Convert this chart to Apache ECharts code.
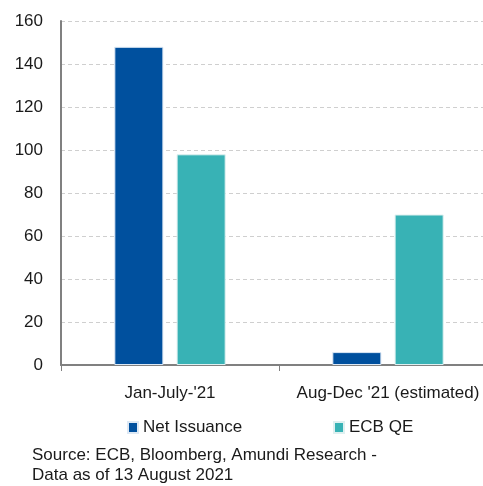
<!DOCTYPE html>
<html>
<head>
<meta charset="utf-8">
<script src="https://cdn.jsdelivr.net/npm/echarts@6/dist/echarts.min.js"></script>
<style>
  html, body { margin: 0; padding: 0; background: #fff; overflow: hidden; }
  /* the plot runs a little past the right edge of the window */
  #chart { width: 497px; height: 486px; }
</style>
</head>
<body>
<div id="chart"></div>
<script>
// Euro area issuance vs ECB purchases (EUR bn)
const categories = ["Jan-July-'21", "Aug-Dec '21 (estimated)"];
const netIssuance = [148, 6];
const ecbQE = [98, 70];
const yTicks = { min: 0, max: 160, step: 20 };

const FONT = '"Liberation Sans", Arial, sans-serif';
const TEXT = '#1a1a1a';

const chart = echarts.init(document.getElementById('chart'), null, { renderer: 'canvas' });

chart.setOption({
  animation: false,
  backgroundColor: '#ffffff',
  grid: { left: 61, right: 0, top: 21, bottom: 121, containLabel: false },
  xAxis: {
    type: 'category',
    data: categories,
    axisLine: { show: true, lineStyle: { color: '#808080', width: 2 } },
    axisTick: { show: true, length: 6, lineStyle: { color: '#808080', width: 1 } },
    axisLabel: { color: TEXT, fontFamily: FONT, fontSize: 17, margin: 20, interval: 0 },
    splitLine: { show: false }
  },
  yAxis: {
    type: 'value',
    min: yTicks.min,
    max: yTicks.max,
    interval: yTicks.step,
    axisLine: { show: true, lineStyle: { color: '#808080', width: 2 } },
    axisTick: { show: false },
    axisLabel: { color: TEXT, fontFamily: FONT, fontSize: 17, margin: 18 },
    splitLine: { show: true, lineStyle: { color: '#cfcfcf', type: [4, 3], width: 1 } }
  },
  legend: [
    {
      data: ['Net Issuance'],
      left: 127, top: 419,
      itemWidth: 10, itemHeight: 11, itemGap: 0,
      icon: 'rect',
      textStyle: { color: TEXT, fontFamily: FONT, fontSize: 17 },
      padding: 0
    },
    {
      data: ['ECB QE'],
      left: 333, top: 419,
      itemWidth: 10, itemHeight: 11, itemGap: 0,
      icon: 'rect',
      textStyle: { color: TEXT, fontFamily: FONT, fontSize: 17 },
      padding: 0
    }
  ],
  graphic: [
    {
      type: 'text',
      left: 32, top: 445,
      style: {
        text: 'Source: ECB, Bloomberg, Amundi Research -\nData as of 13 August 2021',
        fill: TEXT,
        font: '17px ' + FONT,
        lineHeight: 20
      }
    }
  ],
  series: [
    {
      name: 'Net Issuance',
      type: 'bar',
      data: netIssuance,
      barWidth: '22.5%',
      barGap: '27%',
      itemStyle: { color: '#00509e', borderColor: '#dde8f4', borderWidth: 1 }
    },
    {
      name: 'ECB QE',
      type: 'bar',
      data: ecbQE,
      barWidth: '22.5%',
      itemStyle: { color: '#38b2b5', borderColor: '#dff0f0', borderWidth: 1 }
    }
  ]
});
</script>
</body>
</html>
